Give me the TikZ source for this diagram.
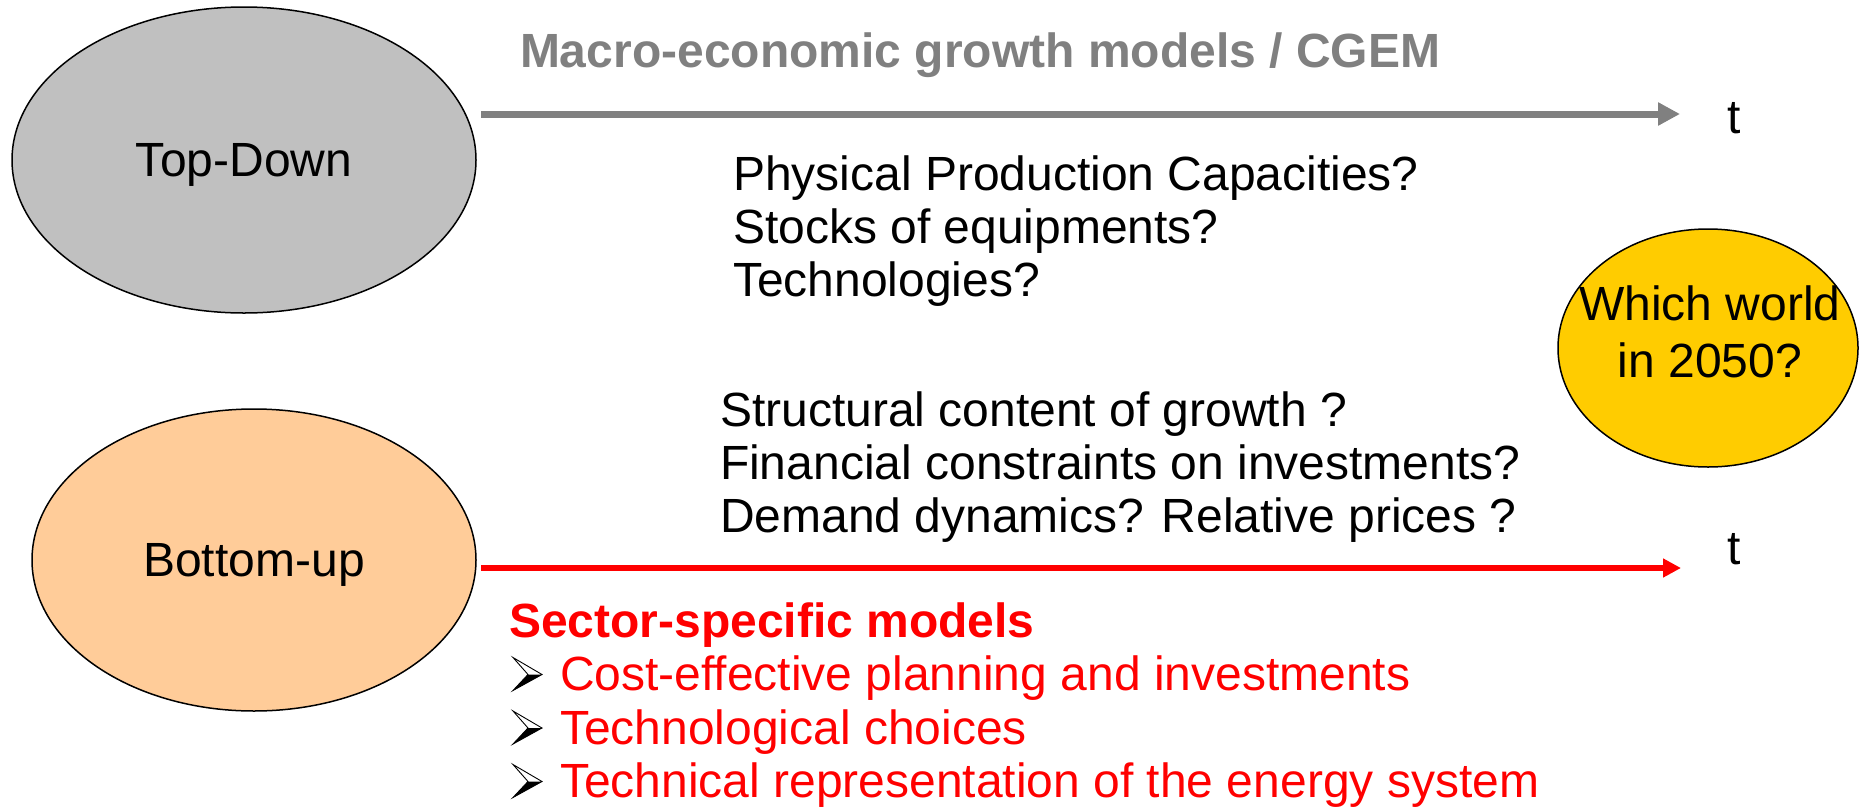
\documentclass[tikz,border=0pt]{standalone}
\usepackage{fontspec}
\setmainfont{Liberation Sans}
\usetikzlibrary{shapes.geometric,arrows.meta,calc}

\definecolor{tdgray}{HTML}{C0C0C0}
\definecolor{bupeach}{HTML}{FFCC99}
\definecolor{worldgold}{HTML}{FFCC00}
\definecolor{axisgray}{HTML}{808080}
\definecolor{bured}{HTML}{FF0000}

% left-aligned stack of lines whose baseline is that of the first line
\newcommand\stackleft[1]{\begin{tabular}[t]{@{}l@{}}#1\end{tabular}}
\newcommand\stackcenter[1]{\begin{tabular}[t]{@{}c@{}}#1\end{tabular}}

\tikzset{
  every node/.style={inner sep=0pt, outer sep=0pt, font=\fontsize{48}{53}\selectfont},
  approach/.style={ellipse, draw=black, line width=1.5pt, text depth=0pt},
  textblock/.style={anchor=base west},
  timeaxis/.style={line width=7pt, draw=axisgray, -{Triangle[length=22pt,width=22pt]}},
  sectoraxis/.style={line width=6pt, draw=bured, -{Triangle[length=18pt,width=18pt]}},
  bulletarrow/.pic={
    % upper half white, lower half black, as a 3D arrowhead
    \fill[white] (0,-33) -- (29,-16) -- (15,-16) -- cycle;
    \fill[black] (15,-16) -- (29,-16) -- (0,0) -- cycle;
    \draw[black, line width=0.9pt, line join=miter]
      (0,-33) -- (29,-16) -- (0,0) -- (15,-16) -- cycle;
  }
}

\begin{document}
\begin{tikzpicture}[x=1pt, y=-1pt]
\useasboundingbox (0,0) rectangle (1860,806);

% the two modelling approaches
\node[approach, fill=tdgray, minimum width=464pt, minimum height=306pt] (td) at (244,160) {Top-Down};
\node[approach, fill=bupeach, minimum width=444pt, minimum height=302pt] (bu) at (254,560) {Bottom-up};

% the question in the middle-right
\node[approach, fill=worldgold, minimum width=300pt, minimum height=238pt] (world) at (1708,348) {};
\node[anchor=base, font=\fontsize{48}{57}\selectfont] (worldtxt) at (1710,320)
  {\stackcenter{Which world\\in 2050?}};

% time axes
\coordinate (topstart) at (481,114);
\coordinate (topend) at (1680,114);
\draw[timeaxis] (topstart) -- (topend);
\node[anchor=base] (ttop) at (1734,133) {t};

\coordinate (botstart) at (481,568);
\coordinate (botend) at (1681,568);
\draw[sectoraxis] (botstart) -- (botend);
\node[anchor=base] (tbot) at (1734,564) {t};

% labels
\node[textblock, text=axisgray, font=\fontsize{48}{53}\selectfont\bfseries] (macro) at (520,67)
  {Macro-economic growth models / CGEM};

\node[textblock] (q1) at (733,190)
  {\stackleft{Physical Production Capacities?\\Stocks of equipments?\\Technologies?}};

\node[textblock] (q2) at (720,426)
  {\stackleft{Structural content of growth ?\\Financial constraints on investments?\\Demand dynamics? Relative prices ?}};

\node[textblock, text=bured, font=\fontsize{48}{53.5}\selectfont] (sector) at (509,637)
  {\stackleft{\textbf{Sector-specific models}\\
   \hspace*{51pt}Cost-effective planning and investments\\
   \hspace*{51pt}Technological choices\\
   \hspace*{51pt}Technical representation of the energy system}};

\foreach \k in {1,2,3}
  \pic at ($(sector.base west)+(4,53.5*\k)$) {bulletarrow};

\end{tikzpicture}
\end{document}
